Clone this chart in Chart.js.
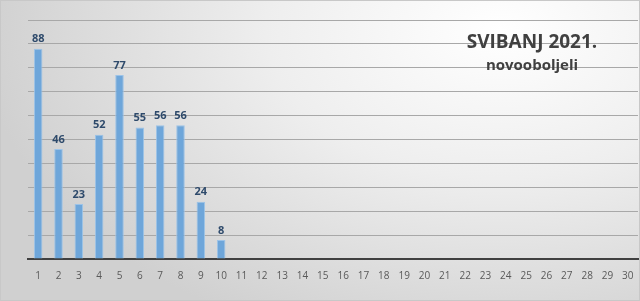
<!DOCTYPE html>
<html>
<head>
<meta charset="utf-8">
<script src="https://cdn.jsdelivr.net/npm/chart.js"></script>
<style>
html, body { margin: 0; padding: 0; }
body {
  width: 640px; height: 301px; overflow: hidden;
  background: radial-gradient(ellipse 520px 330px at 500px 30px, #ffffff 0%, #eeeeee 45%, #d0d0d0 100%);
}
#wrap { position: relative; width: 638px; height: 299px; border: 1px solid #c8c8c8; }
</style>
</head>
<body>
<div id="wrap"><canvas id="myChart"></canvas></div>
<script>
// dani u svibnju
const days = [];
for (let d = 1; d <= 30; d++) days.push(String(d));
// novooboljeli po danu
const cases = [88, 46, 23, 52, 77, 55, 56, 56, 24, 8];
const titleText = "SVIBANJ 2021.";
const subtitleText = "novooboljeli";

const labelPlugin = {
  id: 'barLabels',
  afterDatasetsDraw(chart) {
    const ctx = chart.ctx;
    const meta = chart.getDatasetMeta(0);
    ctx.save();
    ctx.font = 'bold 11px "Open Sans", sans-serif';
    ctx.fillStyle = '#2e4a6b';
    ctx.textAlign = 'center';
    ctx.textBaseline = 'bottom';
    meta.data.forEach(function(bar, i) {
      const v = chart.data.datasets[0].data[i];
      if (v == null) return;
      ctx.fillText(v, bar.x, bar.y - 4);
    });
    // naslov
    const a = chart.chartArea;
    ctx.fillStyle = '#404040';
    ctx.font = 'bold 19px "Open Sans", sans-serif';
    ctx.textBaseline = 'middle';
    ctx.fillText(titleText, a.right - 106, 42);
    ctx.font = 'bold 15px "Open Sans", sans-serif';
    ctx.fillText(subtitleText, a.right - 106, 65);
    ctx.restore();
  }
};

var ctx = document.getElementById('myChart').getContext('2d');
var chart = new Chart(ctx, {
  type: 'bar',
  data: {
    labels: days,
    datasets: [{
      data: cases,
      backgroundColor: '#6ea6da',
      borderColor: '#9cc3e8',
      borderWidth: 1,
      barPercentage: 0.42,
      categoryPercentage: 1.0
    }]
  },
  options: {
    responsive: true,
    maintainAspectRatio: false,
    animation: false,
    layout: { padding: { left: 27, right: 1, top: 19, bottom: 15 } },
    plugins: { legend: { display: false }, tooltip: { enabled: false } },
    scales: {
      x: {
        grid: { display: false },
        border: { color: '#404040', width: 2 },
        ticks: { color: '#595959', font: { size: 10, family: '"Open Sans", sans-serif' }, padding: 3, maxRotation: 0, autoSkip: false }
      },
      y: {
        min: 0, max: 100,
        ticks: { display: false, stepSize: 10 },
        border: { display: false },
        grid: { color: '#a8a8a8', lineWidth: 1, drawTicks: false }
      }
    }
  },
  plugins: [labelPlugin]
});
</script>
</body>
</html>
